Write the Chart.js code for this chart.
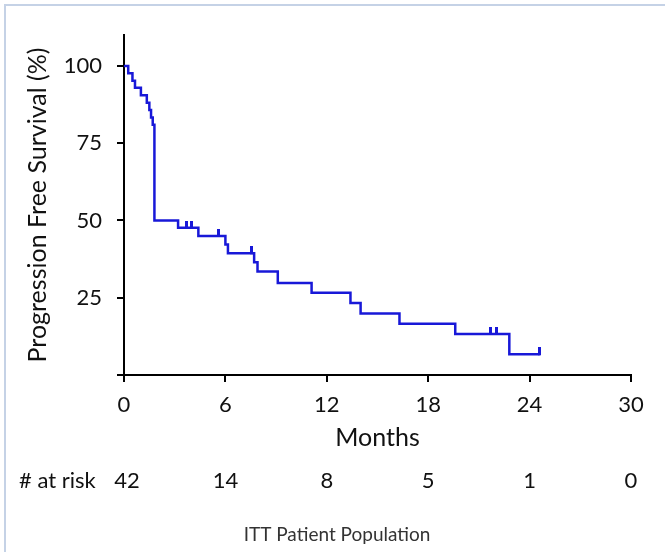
<!DOCTYPE html>
<html>
<head>
<meta charset="utf-8">
<script src="https://cdn.jsdelivr.net/npm/chart.js@4.4.1/dist/chart.umd.min.js"></script>
<style>
  html, body { margin: 0; padding: 0; background: #fff; }
  #wrap { position: relative; width: 665px; height: 552px; overflow: hidden; }
  #frame { position: absolute; left: 4px; top: 4px; width: 670px; height: 560px;
           border-left: 2px solid #c5d2e6; border-top: 2px solid #c5d2e6; pointer-events: none; }
  canvas { position: absolute; left: 0; top: 0; }
</style>
</head>
<body>
<div id="wrap">
  <canvas id="kmChart" width="665" height="552"></canvas>
  <div id="frame"></div>
</div>
<script>
// Kaplan-Meier curve (months, % progression free)
const kmMonths   = [0, 0.25, 0.5, 0.65, 1.0, 1.35, 1.5, 1.6, 1.7, 1.8, 3.2, 4.4, 6.0, 6.15, 7.7, 7.9, 9.1, 11.1, 13.4, 14.0, 16.3, 19.6, 22.8, 24.6];
const kmSurvival = [100, 97.6, 95.2, 92.9, 90.5, 88.1, 85.7, 83.3, 81.0, 50.0, 47.6, 45.0, 42.2, 39.4, 36.5, 33.5, 29.8, 26.6, 23.3, 19.9, 16.6, 13.3, 6.7, 6.7];

// censored patients (tick marks)
const censorMonths   = [3.7, 4.0, 5.6, 7.55, 21.7, 22.05, 24.6];
const censorSurvival = [47.6, 47.6, 45.0, 39.4, 13.3, 13.3, 6.7];

// number at risk row
const riskMonths = [0, 6, 12, 18, 24, 30];
const riskCounts = [42, 14, 8, 5, 1, 0];

const xTicks = [0, 6, 12, 18, 24, 30];
const yTicks = [25, 50, 75, 100];

const blue = '#1818d8';
const font = 'Lato';

// small tick that sits on top of the curve
const censorMark = document.createElement('canvas');
censorMark.width = 3;
censorMark.height = 14;
(() => {
    const c = censorMark.getContext('2d');
    c.fillStyle = blue;
    c.fillRect(0, 0, 3, 8);
})();

const riskRow = {
    id: 'riskRow',
    afterDraw(chart) {
        const ctx = chart.ctx;
        const x = chart.scales.x;
        ctx.save();
        ctx.fillStyle = '#111';
        ctx.textBaseline = 'middle';
        ctx.font = '22px ' + font;
        ctx.textAlign = 'left';
        ctx.fillText('# at risk', 19, 481);
        ctx.textAlign = 'center';
        riskMonths.forEach((m, i) => {
            ctx.fillText(String(riskCounts[i]), x.getPixelForValue(m) + (i === 0 ? 3 : 0), 481);
        });
        ctx.font = '19px ' + font;
        ctx.fillStyle = '#333';
        ctx.fillText('ITT Patient Population', 337, 535);
        ctx.restore();
    }
};

new Chart(document.getElementById('kmChart').getContext('2d'), {
    type: 'line',
    data: {
        datasets: [{
            label: 'PFS',
            data: kmMonths.map((m, i) => ({ x: m, y: kmSurvival[i] })),
            borderColor: blue,
            borderWidth: 2.5,
            stepped: 'before',
            pointRadius: 0,
            fill: false
        }, {
            label: 'Censored',
            type: 'scatter',
            data: censorMonths.map((m, i) => ({ x: m, y: censorSurvival[i] })),
            pointStyle: censorMark,
            pointRadius: 4,
            showLine: false
        }]
    },
    options: {
        responsive: false,
        animation: false,
        layout: { padding: { left: 0, top: 35, right: 34, bottom: 97 } },
        plugins: { legend: { display: false }, tooltip: { enabled: false } },
        scales: {
            x: {
                type: 'linear',
                min: 0,
                max: 30,
                afterFit: s => { s.height = 80; },
                afterBuildTicks: s => { s.ticks = xTicks.map(v => ({ value: v })); },
                border: { display: true, color: '#000', width: 2 },
                grid: { drawOnChartArea: false, drawTicks: true, tickLength: 7, color: '#000', lineWidth: 2 },
                ticks: { color: '#111', padding: 10, font: { family: font, size: 22 }, maxRotation: 0 },
                title: { display: true, text: 'Months', color: '#111', font: { family: font, size: 25 }, padding: { top: 0, bottom: 2 } }
            },
            y: {
                min: 0,
                max: 110,
                afterFit: s => { s.width = 124; },
                afterBuildTicks: s => { s.ticks = [0].concat(yTicks).map(v => ({ value: v })); },
                border: { display: true, color: '#000', width: 2 },
                grid: { drawOnChartArea: false, drawTicks: true, tickLength: 7, color: '#000', lineWidth: 2 },
                ticks: { color: '#111', padding: 15, font: { family: font, size: 22 },
                         callback: v => (v === 0 ? '' : v) },
                title: { display: true, text: 'Progression Free Survival (%)', color: '#111',
                         font: { family: font, size: 25 }, padding: { top: 23, bottom: 0 } }
            }
        }
    },
    plugins: [riskRow]
});
</script>
</body>
</html>
